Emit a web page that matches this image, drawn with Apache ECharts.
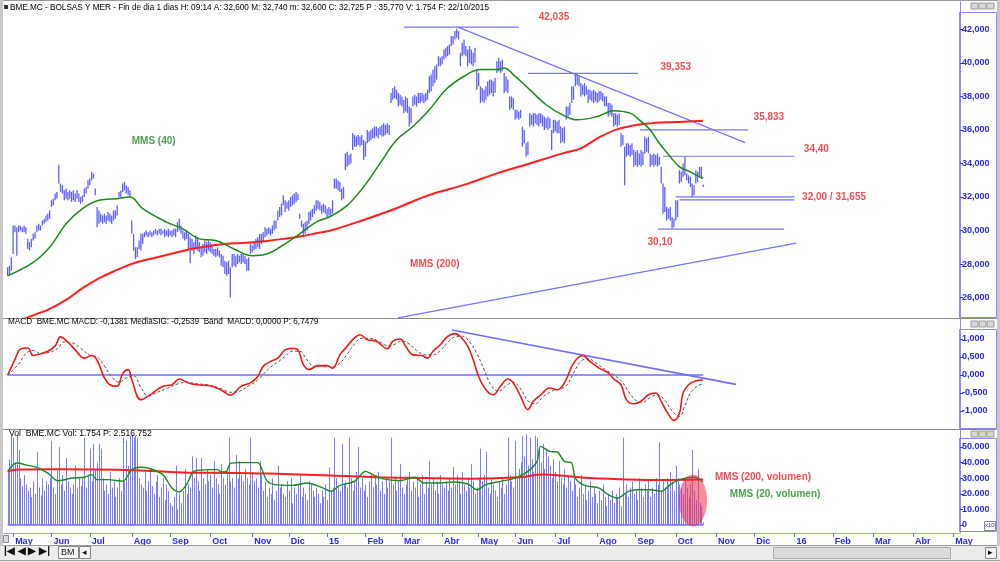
<!DOCTYPE html>
<html><head><meta charset="utf-8">
<script src="https://cdn.jsdelivr.net/npm/echarts@6/dist/echarts.min.js"></script>
<style>html,body{margin:0;padding:0;background:#fff}#c{width:1000px;height:562px}</style>
</head><body><div id="c"></div>
<script>
// ---- x axis: trading-day index, month ticks ----
const monthTickIdx = [3,24,45,68,89,111,134,154,175,196,216,238,258,278,300,323,344,366,388,409,431,452,474,496,518];
const monthTickLabels = ['May','Jun','Jul','Ago','Sep','Oct','Nov','Dic','15','Feb','Mar','Abr','May','Jun','Jul','Ago','Sep','Oct','Nov','Dic','16','Feb','Mar','Abr','May'];

// ---- price (daily low / high), trading day 0 .. 381 ----
const priceLow = [
27.3,27.4,27.6,28.6,29.9,28.5,29.9,30.0,29.9,29.9,
29.8,28.9,28.8,29.0,29.4,29.5,29.9,30.0,30.0,30.3,
30.4,30.5,30.6,30.7,31.4,31.5,31.8,31.9,32.8,32.3,
32.2,31.8,31.9,31.8,31.9,31.7,31.8,31.7,31.9,31.7,
31.6,31.7,32.0,32.2,32.5,32.7,33.0,33.1,32.1,30.2,
30.4,30.5,30.4,30.5,30.4,30.6,30.5,30.4,30.6,30.7,
30.9,32.0,32.0,32.3,32.4,32.2,32.1,32.0,29.8,28.8,
28.3,28.4,28.9,28.8,29.2,29.6,29.7,29.6,29.7,29.6,
29.7,29.8,29.7,29.8,29.7,29.8,29.6,29.7,29.6,29.7,
29.6,29.7,29.6,29.9,30.0,29.8,29.5,29.4,29.5,28.9,
28.05,28.8,28.6,28.9,28.8,28.7,28.4,28.5,28.7,28.6,
28.8,28.7,28.6,28.5,28.4,28.5,28.4,27.9,27.8,27.4,
27.3,27.4,26.0,27.8,27.9,27.8,28.0,28.1,28.0,28.1,
28.0,27.6,27.6,28.6,28.7,28.8,28.9,29.0,28.9,29.2,
29.3,29.6,29.7,29.8,29.7,29.8,30.0,30.1,30.6,30.8,
30.9,31.5,31.1,31.3,31.2,31.4,31.5,31.6,31.7,31.8,
30.7,30.2,29.6,29.8,30.0,30.4,30.6,30.8,31.0,31.2,
31.3,31.2,31.0,31.1,31.0,30.8,30.9,30.8,31.0,32.5,
32.5,32.4,32.3,31.8,31.9,33.6,33.8,33.9,34.0,34.8,
35.0,35.0,35.1,35.0,35.1,34.2,34.4,35.2,35.3,35.4,
35.5,35.5,35.6,35.5,35.7,35.6,35.6,35.7,35.8,35.7,
37.6,37.8,37.9,37.8,37.4,37.5,37.4,37.0,37.1,37.0,
36.2,36.4,37.4,37.5,37.4,37.6,37.6,37.7,37.6,37.7,
37.8,38.2,38.3,38.6,38.8,39.0,39.8,39.8,39.9,40.2,
40.3,40.4,40.5,41.0,41.1,41.4,41.5,41.4,39.8,40.4,
40.5,40.4,39.8,40.0,39.9,39.8,40.0,38.4,38.6,37.6,
37.7,37.6,37.8,38.0,38.1,38.2,38.0,38.2,39.4,39.5,
39.4,39.5,38.2,38.3,38.2,37.2,37.3,37.2,36.6,36.7,
36.6,36.7,35.0,35.2,34.4,34.5,36.2,36.3,36.2,36.4,
36.3,36.2,36.4,36.2,36.0,36.1,36.0,36.1,34.8,35.8,
35.9,35.8,35.8,35.2,35.3,35.2,36.6,36.8,36.9,37.6,
37.8,38.6,38.7,38.6,38.0,38.1,38.0,38.1,37.6,37.8,
37.7,37.6,37.7,37.6,37.7,37.8,37.7,37.4,37.4,36.8,
36.9,36.8,36.2,36.3,36.2,36.3,35.0,35.1,32.7,34.4,
34.5,34.4,34.5,33.8,33.9,33.8,33.9,33.8,33.9,34.6,
34.7,34.6,33.8,33.9,33.8,33.9,33.8,33.9,32.8,31.0,
31.1,30.6,30.7,30.6,30.1,30.2,30.6,30.8,32.8,32.9,
33.2,33.3,33.0,32.8,32.6,32.0,32.1,32.8,32.9,33.2,
33.1,32.6];
const priceHigh = [
27.8,27.9,28.4,30.3,30.3,30.2,30.3,30.3,30.2,30.3,
30.2,29.5,29.3,29.5,29.8,29.9,30.3,30.4,30.3,30.6,
30.7,30.9,31.0,31.2,31.8,31.9,32.2,32.3,33.9,32.8,
32.7,32.4,32.5,32.3,32.4,32.3,32.4,32.2,32.4,32.2,
32.0,32.1,32.5,32.6,33.0,33.1,33.5,33.4,32.5,31.4,
31.2,31.0,30.9,31.0,30.9,31.1,31.0,30.9,31.2,31.2,
31.5,32.3,32.4,32.8,32.9,32.7,32.6,32.4,30.6,29.8,
29.0,29.0,29.4,29.8,29.8,29.9,30.0,29.9,30.0,29.9,
30.0,30.1,30.0,30.1,30.1,30.0,30.1,30.0,30.1,30.0,
30.0,30.1,30.1,30.5,30.7,30.3,30.0,29.9,30.0,29.8,
29.6,29.5,29.3,29.7,29.6,29.3,29.0,29.2,29.4,29.3,
29.4,29.3,29.2,28.9,28.9,29.0,28.8,28.6,28.5,28.2,
28.1,28.2,27.8,28.6,28.6,28.5,28.6,28.5,28.6,28.6,
28.5,28.3,28.4,29.2,29.1,29.3,29.5,29.6,29.8,29.8,
29.9,30.2,30.1,30.2,30.1,30.3,30.6,30.6,31.2,31.4,
31.6,32.1,31.8,31.7,31.8,32.0,32.1,32.2,32.3,32.2,
31.0,30.6,30.4,30.5,30.6,31.1,31.2,31.3,31.5,31.8,
31.8,31.7,31.5,31.6,31.5,31.3,31.4,31.3,31.8,33.1,
33.1,33.0,32.9,32.5,32.6,34.6,34.7,34.5,34.6,35.8,
35.7,35.6,35.7,35.6,35.7,35.4,35.3,36.0,35.9,36.0,
36.1,36.2,36.2,36.1,36.2,36.3,36.4,36.3,36.4,36.3,
38.2,38.5,38.6,38.4,38.2,38.1,38.0,37.8,38.0,37.9,
37.4,37.3,38.0,38.1,38.0,38.2,38.2,38.2,38.1,38.2,
38.4,39.2,39.3,39.6,39.8,39.9,40.4,40.3,40.4,40.8,
40.9,41.0,41.1,41.6,41.6,41.9,42.035,41.9,40.6,41.2,
41.4,41.0,40.8,41.0,40.8,40.6,40.9,39.6,39.4,38.6,
38.5,38.4,38.6,38.9,39.0,39.0,38.9,39.1,40.1,40.3,
40.1,40.2,39.4,39.2,39.0,38.0,38.0,37.9,37.2,37.2,
37.1,37.2,36.2,36.0,35.2,35.3,37.0,36.9,37.0,37.0,
36.9,37.0,37.0,36.9,36.8,36.7,36.8,36.7,36.0,36.6,
36.6,36.5,36.6,36.2,36.1,36.2,37.4,37.4,37.6,38.6,
38.6,39.35,39.3,39.2,38.8,38.7,38.8,38.6,38.4,38.4,
38.3,38.4,38.3,38.2,38.3,38.3,38.2,38.0,38.0,37.6,
37.6,37.5,37.0,37.0,36.9,37.0,35.8,35.7,35.0,35.2,
35.2,35.1,35.2,34.8,34.7,34.8,34.6,34.8,34.7,35.6,
35.5,35.6,34.6,34.5,34.6,34.5,34.6,34.4,33.8,32.8,
32.6,31.4,31.3,31.4,30.8,30.7,31.8,31.8,33.6,33.5,
34.0,34.4,33.4,33.3,33.2,32.8,32.7,33.6,33.5,33.8,
33.8,32.74];

// moving averages: [trading day, value]
const mms40 = [[0,27.3],[14,28.1],[23,29.0],[32,30.4],[41,31.3],[50,31.8],[60,31.9],[67,32.0],[74,31.3],[87,30.5],[96,30.1],[105,29.5],[114,29.4],[124,28.9],[134,28.5],[142,28.6],[149,29.0],[160,29.8],[169,30.5],[177,30.85],[186,31.5],[195,32.6],[204,34.0],[213,35.4],[222,36.2],[231,37.2],[240,38.4],[250,39.2],[259,39.6],[268,39.6],[272,39.7],[277,39.3],[286,38.4],[295,37.5],[304,36.9],[312,36.6],[323,36.8],[332,37.15],[341,37.0],[346,36.6],[352,36.0],[357,35.2],[363,34.4],[368,33.8],[374,33.5],[379,33.2],[381,33.1]];
const mms200 = [[0,24.3],[13,24.9],[17,25.07],[22,25.26],[32,25.86],[41,26.56],[50,27.15],[60,27.65],[69,28.05],[78,28.3],[87,28.54],[96,28.78],[105,28.98],[114,29.14],[124,29.24],[133,29.28],[142,29.38],[151,29.5],[160,29.64],[169,29.83],[178,30.03],[195,30.63],[213,31.33],[231,32.12],[250,32.72],[268,33.41],[286,34.0],[304,34.6],[314,34.9],[324,35.55],[333,36.0],[342,36.25],[352,36.39],[361,36.45],[370,36.49],[381,36.55]];

// MACD and signal: [trading day, value]
const macdLine = [[0,0],[4,0.43],[7,0.72],[11,0.75],[14,0.54],[16,0.56],[22,0.66],[26,0.81],[29,1.06],[33,0.91],[37,0.70],[42,0.47],[46,0.54],[49,0.41],[53,-0.08],[56,-0.27],[60,-0.31],[63,0.04],[66,0.15],[68,-0.13],[73,-0.69],[78,-0.55],[85,-0.31],[90,-0.27],[94,-0.11],[99,-0.22],[104,-0.27],[112,-0.31],[118,-0.45],[122,-0.56],[128,-0.31],[133,-0.22],[137,-0.04],[140,0.24],[144,0.38],[148,0.47],[152,0.70],[156,0.74],[159,0.70],[162,0.29],[165,0.15],[170,0.26],[175,0.26],[178,0.19],[182,0.56],[186,0.80],[190,1.03],[193,1.12],[197,0.98],[202,0.94],[208,0.73],[211,0.94],[215,1.00],[218,0.80],[222,0.56],[227,0.54],[230,0.47],[233,0.66],[237,0.84],[241,1.07],[245,1.15],[248,1.07],[252,0.80],[255,0.43],[258,-0.04],[262,-0.41],[266,-0.55],[270,-0.31],[274,-0.11],[277,-0.22],[281,-0.59],[285,-0.96],[288,-0.73],[292,-0.55],[297,-0.36],[301,-0.41],[303,-0.36],[306,-0.13],[310,0.33],[315,0.54],[319,0.38],[324,0.19],[329,0.06],[332,-0.11],[336,-0.27],[339,-0.69],[343,-0.80],[347,-0.73],[351,-0.55],[355,-0.50],[358,-0.73],[361,-1.01],[365,-1.26],[368,-1.06],[370,-0.50],[373,-0.27],[377,-0.16],[381,-0.14]];
const macdSignal = [[0,0],[6,0.3],[10,0.6],[14,0.68],[18,0.6],[22,0.62],[27,0.72],[31,0.92],[35,0.9],[40,0.74],[45,0.55],[49,0.5],[53,0.25],[57,-0.05],[61,-0.2],[65,-0.08],[69,-0.02],[73,-0.35],[77,-0.58],[82,-0.48],[88,-0.36],[93,-0.25],[98,-0.2],[103,-0.24],[110,-0.28],[117,-0.38],[122,-0.48],[127,-0.45],[132,-0.3],[136,-0.18],[140,0.02],[144,0.22],[148,0.36],[152,0.52],[156,0.66],[160,0.66],[164,0.42],[168,0.24],[173,0.24],[178,0.23],[182,0.33],[186,0.58],[190,0.86],[194,1.02],[198,1.02],[203,0.95],[208,0.82],[212,0.85],[216,0.94],[220,0.86],[224,0.68],[229,0.56],[233,0.56],[237,0.68],[241,0.9],[245,1.06],[249,1.08],[253,0.92],[257,0.6],[261,0.15],[265,-0.3],[269,-0.45],[273,-0.3],[277,-0.2],[281,-0.38],[285,-0.72],[289,-0.8],[293,-0.62],[298,-0.45],[302,-0.4],[306,-0.3],[310,0.05],[314,0.38],[318,0.45],[323,0.3],[328,0.13],[332,0.0],[336,-0.15],[340,-0.45],[344,-0.7],[348,-0.75],[352,-0.62],[356,-0.55],[360,-0.7],[364,-1.0],[368,-1.15],[371,-0.85],[374,-0.5],[378,-0.3],[381,-0.25]];

// volume, thousands (axis labels "50.000"), trading day 0 .. 381
const volume = [
34,42,57,56,40,57,48,30,25,32, 26,22,24,18,28,20,47,24,19,30,
22,28,26,30,54,24,20,35,50,26, 32,22,43,28,24,20,26,38,24,30,
25,30,56,24,32,49,28,52,36,40, 52,49,30,22,26,20,34,24,28,18,
24,30,22,56,28,54,38,57,58,56, 57,56,30,26,24,34,22,28,36,25,
20,28,32,18,24,30,16,26,22,14, 12,18,38,10,20,14,22,36,20,26,
24,44,30,43,28,22,43,30,26,35, 28,32,24,41,30,26,20,39,30,26,
34,56,28,30,24,45,30,41,32,28, 36,30,26,56,34,28,30,24,41,32,
22,28,18,24,20,30,16,22,38,24, 26,20,18,28,22,30,14,24,20,26,
32,18,24,20,16,28,26,22,18,24, 20,14,22,18,26,16,37,22,24,56,
30,24,22,52,26,28,24,56,30,22, 28,34,50,24,30,22,26,18,28,32,
24,30,26,34,22,28,20,30,24,28, 56,26,30,22,28,39,24,20,26,30,
34,22,28,24,30,18,26,32,20,28, 24,41,26,30,22,28,20,32,26,24,
28,22,30,24,37,26,32,28,20,34, 26,22,30,24,39,28,20,24,30,49,
28,32,47,24,20,30,26,22,18,28, 24,30,20,26,56,32,28,24,54,30,
36,40,57,44,58,38,56,42,34,57, 56,48,40,52,36,49,44,38,30,42,
34,28,41,30,26,36,24,32,28,22, 30,26,18,24,32,20,26,16,22,28,
18,24,20,14,22,16,26,18,12,20, 16,22,14,20,18,24,12,56,20,26,
18,24,28,20,22,16,30,24,18,26, 22,28,18,24,20,30,26,53,22,28,
24,30,26,34,28,22,38,30,26,24, 20,28,24,18,26,48,22,16,36,14,
12,1.754];
const volMms200 = [[0,34.4],[6,35.5],[22,35.7],[73,35.0],[99,33.5],[125,33.4],[151,32.7],[177,31.8],[202,30.6],[228,30.1],[254,29.7],[280,30.6],[293,32.3],[306,31.4],[319,30.1],[332,29.5],[358,28.8],[381,29.1]];
const volMms20 = [[0,34.4],[5,39.7],[11,38.2],[16,37.0],[22,33.3],[26,29.1],[28,28.4],[35,30.1],[42,30.6],[46,32.3],[49,29.1],[55,29.1],[63,28.0],[68,35.5],[73,37.0],[78,36.1],[85,32.3],[90,23.7],[94,21.2],[98,25.9],[102,34.4],[110,35.5],[115,35.5],[117,34.0],[120,34.4],[122,39.5],[128,40.0],[137,40.0],[139,36.5],[142,28.4],[146,25.9],[156,25.4],[164,26.9],[172,24.1],[177,21.6],[182,25.4],[190,28.0],[196,34.4],[200,32.3],[205,29.7],[215,28.4],[223,30.6],[228,26.9],[236,26.9],[244,27.6],[252,26.3],[257,22.6],[262,25.9],[270,28.0],[278,30.1],[285,34.4],[290,40.8],[292,50.4],[297,47.2],[301,46.8],[305,40.8],[309,39.7],[311,30.1],[316,25.4],[324,23.7],[329,19.4],[334,17.3],[340,21.6],[345,22.6],[352,22.6],[358,21.6],[363,25.9],[368,29.1],[376,30.6],[381,27.6]];

// axis tick values
const priceTicks = [26,28,30,32,34,36,38,40,42];
const macdTicks = [-1,-0.5,0,0.5,1];
const volTicks = [0,10,20,30,40,50];

// hand-drawn lines on the price panel: [[day, price],[day, price]]
const priceSegments = [
  [[217,42.13],[280,42.13]],
  [[246.7,42.13],[404,35.24]],
  [[285,39.37],[345.3,39.37]],
  [[346.4,36.0],[405.6,36.0]],
  [[359,34.43],[431,34.43]],
  [[366,32.0],[431,32.0]],
  [[368,31.83],[431,31.83]],
  [[356.3,30.08],[425.4,30.08]],
  [[213.8,24.79],[432,29.25]]
];
const priceNotes = [
  ['42,035', 299.3, 42.73, '#f01e23'],
  ['39,353', 366, 39.75, '#f01e23'],
  ['35,833', 417, 36.77, '#f01e23'],
  ['34,40', 443, 34.86, '#f01e23'],
  ['32,00 / 31,655', 452.7, 32.0, '#f01e23'],
  ['30,10', 357.4, 29.27, '#f01e23'],
  ['MMS (40)', 80, 35.34, '#1e8a1e'],
  ['MMS (200)', 234, 27.97, '#f01e23']
];
const macdSegments = [
  [[0,0],[381,0]],
  [[243.4,1.25],[399,-0.26]]
];
const volNotes = [
  ['MMS (200, volumen)', 413.8, 30.8, '#f01e23'],
  ['MMS (20, volumen)', 420.4, 19.9, '#1e8a1e']
];
const volHighlight = [375.4, 15.7];

const FONT = 'Liberation Sans, Arial, sans-serif';
const BLUE_TXT = '#2727f0';
const LINE_BLUE = '#7474ff';

const xMin = -2, xMax = 521.7;
const grids = [
  {left:4, right:40, top:2, height:316},
  {left:4, right:40, top:319, height:109},
  {left:4, right:40, top:430, height:103}
];
function xAxisFor(i){
  const last = i === 2;
  return {type:'value', gridIndex:i, min:xMin, max:xMax, position:'bottom',
    axisLine:{show:last, onZero:false, lineStyle:{color:'#9a9aff'}},
    axisTick:{show:last, customValues:monthTickIdx, length:4, lineStyle:{color:'#6a6aff'}},
    axisLabel:{show:last, customValues:monthTickIdx, align:'left', margin:4, padding:[0,0,0,2],
      color:BLUE_TXT, fontSize:9, fontWeight:'bold', fontFamily:FONT,
      formatter:(v)=>monthTickLabels[monthTickIdx.indexOf(Math.round(v))] || ''},
    splitLine:{show:false}};
}
function yAxisFor(i, min, max, ticks, fmt){
  return {type:'value', gridIndex:i, position:'right', min, max,
    axisLine:{show:true, onZero:false, lineStyle:{color:'#8a8aff'}},
    axisTick:{show:true, customValues:ticks, length:3, lineStyle:{color:'#3a3aff'}},
    axisLabel:{customValues:ticks, margin:2, color:BLUE_TXT, fontSize:9, fontWeight:'bold', fontFamily:FONT, formatter:fmt},
    splitLine:{show:false}};
}
const fmt3 = v => v.toFixed(3).replace('.', ',');
const fmtVol = v => v === 0 ? '0' : v + '.000';

function rangeBar(color, w, snap){
  return function(params, api){
    const x = api.value(0);
    const p1 = api.coord([x, api.value(1)]);
    const p2 = api.coord([x, api.value(2)]);
    const px = snap ? Math.round(p1[0]) + 0.5 : p1[0];
    return {type:'line', shape:{x1:px, y1:p1[1], x2:px, y2:p2[1]}, style:{stroke:color, lineWidth:w}};
  };
}
function segSeries(seg, xi, color, w){
  return {type:'line', xAxisIndex:xi, yAxisIndex:xi, data:seg, showSymbol:false, symbol:'none', silent:true,
    lineStyle:{color, width:w}, z:4, animation:false};
}
function noteSeries(notes, xi){
  return {type:'scatter', xAxisIndex:xi, yAxisIndex:xi, symbolSize:0, silent:true, z:10, animation:false,
    data:notes.map(n=>({value:[n[1], n[2]], label:{show:true, position:'inside', formatter:n[0], color:n[3],
      fontSize:10, fontWeight:'bold', fontFamily:FONT}}))};
}

const series = [];
series.push({type:'custom', xAxisIndex:0, yAxisIndex:0, renderItem:rangeBar('#5e5eff', 1.3, false), silent:true, clip:true,
  data:priceLow.map((lo,i)=>[i, lo, priceHigh[i]]), encode:{x:0, y:[1,2]}, z:2, animation:false});
series.push({type:'line', xAxisIndex:0, yAxisIndex:0, data:mms200, smooth:0.4, symbol:'none', silent:true,
  lineStyle:{color:'#ff1e1e', width:2}, z:5, animation:false});
series.push({type:'line', xAxisIndex:0, yAxisIndex:0, data:mms40, smooth:0.4, symbol:'none', silent:true,
  lineStyle:{color:'#1b8a1b', width:1.5}, z:6, animation:false});
priceSegments.forEach(s => series.push(segSeries(s, 0, LINE_BLUE, 1.2)));
series.push(noteSeries(priceNotes, 0));

macdSegments.forEach(s => series.push(segSeries(s, 1, '#6e6eff', 1.6)));
series.push({type:'line', xAxisIndex:1, yAxisIndex:1, data:macdSignal, smooth:0.4, symbol:'none', silent:true,
  lineStyle:{color:'#555', width:1, type:[3,2]}, z:5, animation:false});
series.push({type:'line', xAxisIndex:1, yAxisIndex:1, data:macdLine, smooth:0.4, symbol:'none', silent:true,
  lineStyle:{color:'#f01818', width:1.6}, z:6, animation:false});

series.push({type:'custom', xAxisIndex:2, yAxisIndex:2, renderItem:rangeBar('#7c7cff', 1, true), silent:true, clip:true,
  data:volume.map((v,i)=>[i, 0, v]), encode:{x:0, y:[1,2]}, z:2, animation:false});
series.push(segSeries([[0,0],[381,0]], 2, '#6e6eff', 1.5));
series.push({type:'line', xAxisIndex:2, yAxisIndex:2, data:volMms200, smooth:0.4, symbol:'none', silent:true,
  lineStyle:{color:'#ff1e1e', width:2}, z:5, animation:false});
series.push({type:'line', xAxisIndex:2, yAxisIndex:2, data:volMms20, smooth:0.3, symbol:'none', silent:true,
  lineStyle:{color:'#1b8a1b', width:1.4}, z:6, animation:false});
series.push({type:'scatter', xAxisIndex:2, yAxisIndex:2, silent:true, z:8, animation:false,
  symbol:'circle', symbolSize:[28,52], itemStyle:{color:'rgba(236,45,70,0.68)'}, data:[volHighlight]});
series.push(noteSeries(volNotes, 2));

function txt(x, y, parts, size){
  const rich = {
    b:{color:BLUE_TXT, fontSize:size, fontFamily:FONT},
    r:{color:'#f01e23', fontSize:size, fontFamily:FONT},
    k:{color:'#222', fontSize:size, fontFamily:FONT}
  };
  return {type:'text', left:x, top:y, silent:true, z:50,
    style:{text:parts.map(p=>'{'+p[0]+'|'+p[1]+'}').join(''), rich, font:size+'px '+FONT}};
}
function winCtl(y){
  return [
    {type:'rect', shape:{x:971, y:y, width:7, height:6}, style:{fill:'#d8d8d8', stroke:'#999'}, silent:true, z:50},
    {type:'rect', shape:{x:979, y:y, width:7, height:6}, style:{fill:'#d8d8d8', stroke:'#999'}, silent:true, z:50},
    {type:'rect', shape:{x:987, y:y, width:7, height:6}, style:{fill:'#d8d8d8', stroke:'#999'}, silent:true, z:50}
  ];
}
const graphic = [
  {type:'rect', shape:{x:0.5, y:0.5, width:998, height:545}, style:{fill:'none', stroke:'#9a9a9a', lineWidth:1}, silent:true, z:40},
  {type:'rect', shape:{x:0, y:0, width:3, height:546}, style:{fill:'#c8c8c8'}, silent:true, z:40},
  {type:'rect', shape:{x:997, y:0, width:3, height:546}, style:{fill:'#c8c8c8'}, silent:true, z:40},
  {type:'line', shape:{x1:3, y1:318.5, x2:997, y2:318.5}, style:{stroke:'#8c8c8c', lineWidth:1.2}, silent:true, z:40},
  {type:'line', shape:{x1:3, y1:429.5, x2:997, y2:429.5}, style:{stroke:'#8c8c8c', lineWidth:1.2}, silent:true, z:40},
  {type:'rect', shape:{x:959.5, y:12.5, width:37, height:305}, style:{fill:'none', stroke:'#8a8aff', lineWidth:1}, silent:true, z:41},
  {type:'rect', shape:{x:959.5, y:329.5, width:37, height:99}, style:{fill:'none', stroke:'#8a8aff', lineWidth:1}, silent:true, z:41},
  {type:'rect', shape:{x:959.5, y:438.5, width:37, height:93}, style:{fill:'none', stroke:'#8a8aff', lineWidth:1}, silent:true, z:41},
  ...winCtl(3), ...winCtl(321), ...winCtl(431),
  {type:'rect', shape:{x:984.5, y:521.5, width:11, height:9}, style:{fill:'#fff', stroke:'#888'}, silent:true, z:45},
  {type:'text', left:985, top:522, silent:true, z:46, style:{text:'x10', font:'6px '+FONT, fill:'#2727f0'}},
  {type:'rect', shape:{x:4, y:5, width:4, height:4}, style:{fill:'#333'}, silent:true, z:50},
  txt(10, 3.5, [['b','BME.MC - BOLSAS Y MER - Fin de dia 1 dias H: 09:14 A: 32,600 M: 32,740 m: 32,600 C: 32,725 '],['r','P : 35,770'],['b',' V: 1.754 F: 22/10/2015']], 8.2),
  txt(8, 317.5, [['r','MACD  BME.MC MACD: '],['b','-0,1381 '],['k','MediaSIG: '],['b','-0,2539  Band  MACD: 0,0000 '],['r','P: 6,7479']], 8.2),
  txt(9, 429.5, [['b','Vol  BME.MC Vol: 1.754 '],['r','P: 2.516.752']], 8.6),
  {type:'rect', shape:{x:0, y:546, width:1000, height:16}, style:{fill:'#ececec'}, silent:true, z:40},
  {type:'line', shape:{x1:0, y1:560.5, x2:1000, y2:560.5}, style:{stroke:'#a0a0a0'}, silent:true, z:41},
  {type:'rect', shape:{x:3.5, y:535.5, width:5, height:7}, style:{fill:'#ddd', stroke:'#888'}, silent:true, z:45},
  {type:'text', left:4, top:546, silent:true, z:45, style:{text:'|◀ ◀ ▶ ▶|', font:'bold 10px '+FONT, fill:'#111'}},
  {type:'rect', shape:{x:58.5, y:546.5, width:20, height:12}, style:{fill:'#f6f6f6', stroke:'#888'}, silent:true, z:45},
  {type:'text', left:61, top:548, silent:true, z:46, style:{text:'BM', font:'9px '+FONT, fill:'#111'}},
  {type:'rect', shape:{x:79.5, y:546.5, width:11, height:12}, style:{fill:'#f6f6f6', stroke:'#888'}, silent:true, z:45},
  {type:'text', left:82, top:548, silent:true, z:46, style:{text:'◂', font:'9px '+FONT, fill:'#111'}},
  {type:'rect', shape:{x:773.5, y:547.5, width:177, height:11}, style:{fill:'#dcdcdc', stroke:'#aaa'}, silent:true, z:45},
  {type:'rect', shape:{x:985.5, y:547.5, width:11, height:11}, style:{fill:'#f6f6f6', stroke:'#888'}, silent:true, z:45},
  {type:'text', left:988, top:548, silent:true, z:46, style:{text:'▸', font:'9px '+FONT, fill:'#111'}}
];

const chart = echarts.init(document.getElementById('c'), null, {renderer:'canvas'});
chart.setOption({
  animation:false,
  backgroundColor:'#ffffff',
  grid:grids,
  xAxis:[xAxisFor(0), xAxisFor(1), xAxisFor(2)],
  yAxis:[
    yAxisFor(0, 24.78, 43.63, priceTicks, fmt3),
    yAxisFor(1, -1.472, 1.556, macdTicks, fmt3),
    yAxisFor(2, -5.13, 60.9, volTicks, fmtVol)
  ],
  series,
  graphic
});
</script>
</body></html>
